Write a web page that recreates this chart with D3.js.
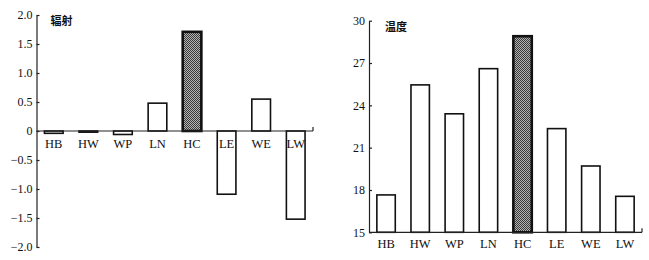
<!DOCTYPE html>
<html>
<head>
<meta charset="utf-8">
<script src="https://cdn.jsdelivr.net/npm/d3@7"></script>
<style>
  body { margin: 0; background: #fff; }
  svg text { font-family: "Liberation Serif", "DejaVu Serif", serif; fill: #111; }
  .ttl { font-family: "Noto Sans CJK SC", sans-serif; font-weight: bold; font-size: 11px; }
</style>
</head>
<body>
<svg id="chart" width="649" height="260"></svg>
<script>
// categories and values
const categories = ['HB', 'HW', 'WP', 'LN', 'HC', 'LE', 'WE', 'LW'];
const radiation = [-0.04, -0.02, -0.06, 0.48, 1.71, -1.09, 0.55, -1.52];
const temperature = [17.65, 25.45, 23.4, 26.6, 28.9, 22.35, 19.7, 17.55];
const radTicks = [-2.0, -1.5, -1.0, -0.5, 0, 0.5, 1.0, 1.5, 2.0];
const tempTicks = [15, 18, 21, 24, 27, 30];
const highlight = 'HC';

const svg = d3.select('#chart');

// checkered fill for the highlighted bar
const pat = svg.append('defs').append('pattern')
  .attr('id', 'checker').attr('width', 2).attr('height', 2)
  .attr('patternUnits', 'userSpaceOnUse');
pat.append('rect').attr('width', 2).attr('height', 2).attr('fill', '#b4b4b4');
pat.append('rect').attr('width', 1).attr('height', 1).attr('fill', '#3a3a3a');
pat.append('rect').attr('x', 1).attr('y', 1).attr('width', 1).attr('height', 1).attr('fill', '#3a3a3a');

function drawPanel(cfg) {
  const g = svg.append('g');
  const x = d3.scaleBand().domain(categories)
    .range([cfg.x0, cfg.x1]).paddingInner(0.46).paddingOuter(0.23);
  const y = d3.scaleLinear().domain(cfg.domain).range([cfg.y0, cfg.y1]);

  // y axis, ticks pointing inward
  const yAxis = d3.axisLeft(y).tickValues(cfg.ticks)
    .tickSizeInner(-3).tickSizeOuter(0).tickPadding(4)
    .tickFormat(cfg.fmt);
  const ya = g.append('g').attr('transform', `translate(${cfg.x0},0)`).call(yAxis);
  ya.select('.domain').attr('stroke', '#222').attr('stroke-width', 1.2);
  ya.selectAll('.tick line').attr('stroke', '#222').attr('stroke-width', 1.2);
  ya.selectAll('.tick text').style('font-size', '12px')
    .style('font-family', '"Liberation Serif", serif').attr('fill', '#111');

  // bars
  const base = y(cfg.base);
  g.append('g').selectAll('rect')
    .data(cfg.values.map((v, i) => ({ c: categories[i], v })))
    .join('rect')
    .attr('x', d => x(d.c))
    .attr('width', x.bandwidth())
    .attr('y', d => Math.min(y(d.v), base))
    .attr('height', d => Math.abs(y(d.v) - base))
    .attr('fill', d => d.c === highlight ? 'url(#checker)' : '#fff')
    .attr('stroke', '#111')
    .attr('stroke-width', d => d.c === highlight ? 2.6 : 1.6);

  // x axis line at base with end tick
  g.append('line')
    .attr('x1', cfg.x0).attr('x2', cfg.x1)
    .attr('y1', base).attr('y2', base)
    .attr('stroke', '#222').attr('stroke-width', 1.2);
  g.append('line')
    .attr('x1', cfg.x1).attr('x2', cfg.x1)
    .attr('y1', base).attr('y2', base - 4)
    .attr('stroke', '#222').attr('stroke-width', 1.2);

  // category labels
  g.append('g').selectAll('text')
    .data(categories)
    .join('text')
    .attr('x', d => x(d) + x.bandwidth() / 2)
    .attr('y', base + cfg.labelDy)
    .attr('text-anchor', 'middle')
    .style('font-size', '12.5px')
    .text(d => d);

  g.append('text').attr('class', 'ttl')
    .attr('x', cfg.x0 + cfg.titleDx).attr('y', cfg.y1 + 10)
    .text(cfg.title);
}

drawPanel({
  title: '辐射', values: radiation, ticks: radTicks,
  domain: [-2, 2], base: 0,
  x0: 36.5, x1: 313, y0: 247, y1: 15,
  labelDy: 17, titleDx: 14,
  fmt: d => d === 0 ? '0' : d3.format('.1f')(d)
});

drawPanel({
  title: '温度', values: temperature, ticks: tempTicks,
  domain: [15, 30], base: 15,
  x0: 369, x1: 642, y0: 232.3, y1: 20.7,
  labelDy: 15.5, titleDx: 16,
  fmt: d3.format('d')
});
</script>
</body>
</html>
